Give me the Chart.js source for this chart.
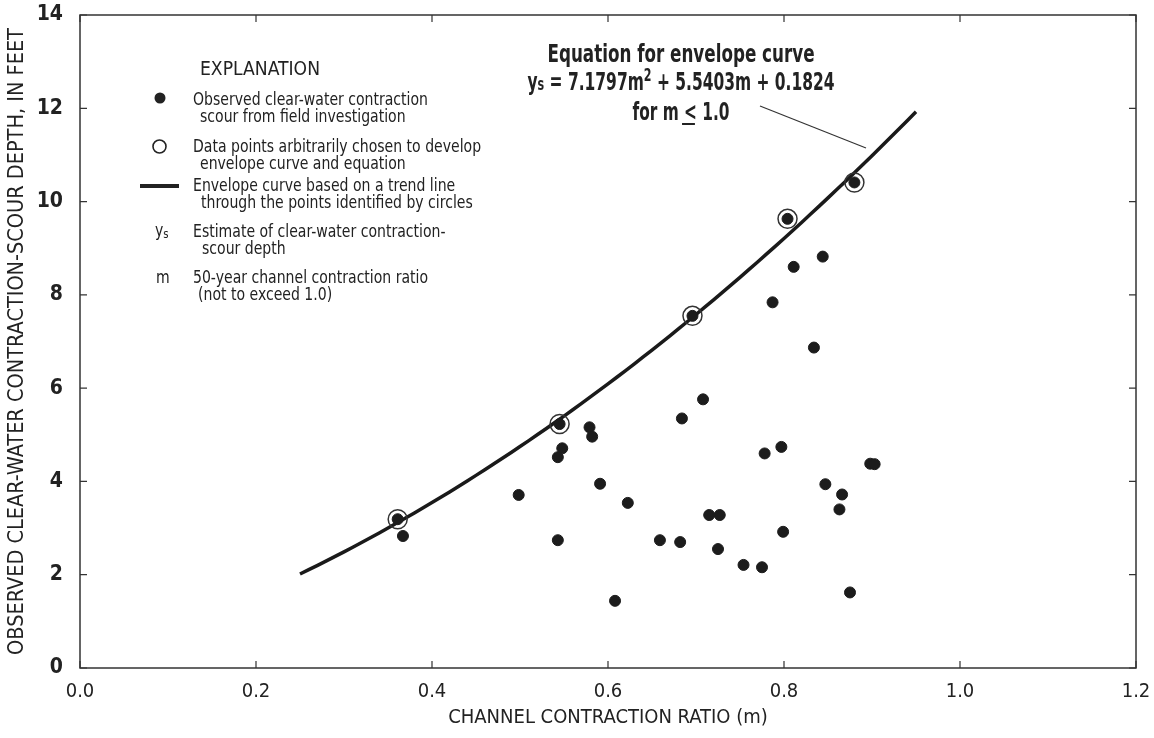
<!DOCTYPE html>
<html>
<head>
<meta charset="utf-8">
<script src="https://cdn.jsdelivr.net/npm/chart.js@4.4.1/dist/chart.umd.min.js"></script>
<style>
  html, body { margin: 0; padding: 0; background: #ffffff; }
  #wrap { width: 1154px; height: 738px; }
</style>
</head>
<body>
<div id="wrap"><canvas id="chart" width="1154" height="738"></canvas></div>
<script>
// Observed clear-water contraction scour: channel contraction ratio (m) and depth (ft)
const observedRatio = [
  0.367, 0.4985, 0.579, 0.582, 0.548, 0.543, 0.591, 0.6225, 0.543, 0.608,
  0.844, 0.811, 0.787, 0.834, 0.708, 0.684, 0.778, 0.797, 0.898, 0.903,
  0.847, 0.866, 0.863, 0.715, 0.727, 0.799, 0.659, 0.682, 0.725, 0.754,
  0.775, 0.875,
  0.361, 0.545, 0.696, 0.804, 0.880
];
const observedDepth = [
  2.83, 3.71, 5.16, 4.96, 4.71, 4.52, 3.95, 3.54, 2.74, 1.44,
  8.82, 8.60, 7.84, 6.87, 5.76, 5.35, 4.60, 4.74, 4.38, 4.37,
  3.94, 3.72, 3.40, 3.28, 3.28, 2.92, 2.74, 2.70, 2.55, 2.21,
  2.16, 1.62,
  3.19, 5.23, 7.55, 9.63, 10.41
];

// Points chosen to develop the envelope curve (circled)
const envelopeRatio = [0.361, 0.545, 0.696, 0.804, 0.880];
const envelopeDepth = [3.19, 5.23, 7.55, 9.63, 10.41];

// Envelope curve ys = a*m^2 + b*m + c, drawn over its plotted range of m
const envelopeCoefficients = [7.1797, 5.5403, 0.1824];
const envelopeRange = [0.25, 0.95];

// Axis ticks
const xTickValues = [0.0, 0.2, 0.4, 0.6, 0.8, 1.0, 1.2];
const yTickValues = [0, 2, 4, 6, 8, 10, 12, 14];

const NARROW = '"Liberation Sans Narrow", "Arial Narrow", "DejaVu Sans Condensed", sans-serif';
const INK = '#222222';

function envelopeDepthAt(m) {
  const [a, b, c] = envelopeCoefficients;
  return a * m * m + b * m + c;
}

const curvePoints = [];
for (let i = 0; i <= 70; i++) {
  const m = envelopeRange[0] + (envelopeRange[1] - envelopeRange[0]) * i / 70;
  curvePoints.push({ x: m, y: envelopeDepthAt(m) });
}

const observedPoints = observedRatio.map((m, i) => ({ x: m, y: observedDepth[i] }));
const envelopePoints = envelopeRatio.map((m, i) => ({ x: m, y: envelopeDepth[i] }));

// Frame on all four sides with inward tick marks
const framePlugin = {
  id: 'frame',
  afterDraw(chart) {
    const { ctx, chartArea: a, scales } = chart;
    const tl = 7;
    ctx.save();
    ctx.strokeStyle = '#333333';
    ctx.lineWidth = 1.5;
    ctx.strokeRect(a.left, a.top, a.right - a.left, a.bottom - a.top);
    ctx.lineWidth = 1.2;
    ctx.beginPath();
    xTickValues.forEach(v => {
      const px = scales.x.getPixelForValue(v);
      ctx.moveTo(px, a.bottom); ctx.lineTo(px, a.bottom - tl);
      ctx.moveTo(px, a.top); ctx.lineTo(px, a.top + tl);
    });
    yTickValues.forEach(v => {
      const py = scales.y.getPixelForValue(v);
      ctx.moveTo(a.left, py); ctx.lineTo(a.left + tl, py);
      ctx.moveTo(a.right, py); ctx.lineTo(a.right - tl, py);
    });
    ctx.stroke();
    ctx.restore();
  }
};

// Draws text compressed horizontally by sx, starting at x
function narrowText(ctx, text, x, y, sx) {
  ctx.save();
  ctx.translate(x, y);
  ctx.scale(sx, 1);
  ctx.fillText(text, 0, 0);
  ctx.restore();
  return ctx.measureText(text).width * sx;
}

// Width of a run of [text, font] pieces at scale sx
function runWidth(ctx, parts, sx) {
  let w = 0;
  parts.forEach(p => { ctx.font = p[1]; w += ctx.measureText(p[0]).width * sx; });
  return w;
}

// Explanation block, equation annotation and leader line
const notesPlugin = {
  id: 'notes',
  afterDatasetsDraw(chart) {
    const { ctx } = chart;
    ctx.save();
    ctx.fillStyle = INK;
    ctx.strokeStyle = INK;
    ctx.textBaseline = 'alphabetic';
    ctx.textAlign = 'left';

    ctx.font = `19px ${NARROW}`;
    const sxHead = 120 / ctx.measureText('EXPLANATION').width;
    narrowText(ctx, 'EXPLANATION', 200, 75, sxHead);

    ctx.font = `18px ${NARROW}`;
    const sxLeg = 235 / ctx.measureText('Observed clear-water contraction').width;
    const lines = [
      ['Observed clear-water contraction', 193, 105],
      ['scour from field investigation', 200, 122],
      ['Data points arbitrarily chosen to develop', 193, 152],
      ['envelope curve and equation', 200, 169],
      ['Envelope curve based on a trend line', 193, 191],
      ['through the points identified by circles', 201, 208],
      ['Estimate of clear-water contraction-', 193, 237],
      ['scour depth', 202, 254],
      ['50-year channel contraction ratio', 193, 283],
      ['(not to exceed 1.0)', 198, 300]
    ];
    lines.forEach(([t, x, y]) => narrowText(ctx, t, x, y, sxLeg));

    // symbols
    ctx.beginPath();
    ctx.arc(160, 98, 5.5, 0, Math.PI * 2);
    ctx.fill();
    ctx.beginPath();
    ctx.lineWidth = 1.6;
    ctx.arc(159.5, 146.5, 6.5, 0, Math.PI * 2);
    ctx.stroke();
    ctx.beginPath();
    ctx.lineWidth = 4;
    ctx.moveTo(140, 186); ctx.lineTo(179, 186);
    ctx.stroke();

    ctx.font = `18px ${NARROW}`;
    const yw = narrowText(ctx, 'y', 155, 236, sxLeg);
    ctx.font = `13px ${NARROW}`;
    narrowText(ctx, 's', 155 + yw, 238, sxLeg);
    ctx.font = `18px ${NARROW}`;
    narrowText(ctx, 'm', 156, 283, sxLeg);

    // equation for the envelope curve
    const cx = 681;
    const big = `bold 25px ${NARROW}`;
    const sub = `bold 18px ${NARROW}`;
    ctx.font = big;
    const l1 = 'Equation for envelope curve';
    const sxEq = 267 / ctx.measureText(l1).width;
    narrowText(ctx, l1, cx - 267 / 2, 62, sxEq);

    const parts = [
      ['y', big, 0],
      ['s', sub, 0],
      [' = 7.1797m', big, 0],
      ['2', sub, -9],
      [' + 5.5403m + 0.1824', big, 0]
    ];
    const sx2 = 307 / runWidth(ctx, parts, 1);
    let x = cx - 307 / 2;
    parts.forEach(p => {
      ctx.font = p[1];
      x += narrowText(ctx, p[0], x, 90 + p[2], sx2);
    });

    ctx.font = big;
    const a1 = 'for m ', a2 = '<', a3 = ' 1.0';
    const sx3 = 97 / runWidth(ctx, [[a1, big], [a2, big], [a3, big]], 1);
    ctx.font = big;
    const w1 = ctx.measureText(a1).width * sx3;
    const w2 = ctx.measureText(a2).width * sx3;
    const x3 = cx - 97 / 2;
    narrowText(ctx, a1, x3, 120, sx3);
    narrowText(ctx, a2, x3 + w1, 120, sx3);
    narrowText(ctx, a3, x3 + w1 + w2, 120, sx3);
    ctx.lineWidth = 2;
    ctx.beginPath();
    ctx.moveTo(x3 + w1 - 2, 124); ctx.lineTo(x3 + w1 + w2 - 2, 124);
    ctx.stroke();

    // leader line to the curve
    ctx.lineWidth = 1.2;
    ctx.strokeStyle = '#333333';
    ctx.beginPath();
    ctx.moveTo(760, 106); ctx.lineTo(866, 148);
    ctx.stroke();
    ctx.restore();
  }
};

new Chart(document.getElementById('chart'), {
  type: 'scatter',
  data: {
    datasets: [
      {
        label: 'Envelope curve',
        type: 'line',
        data: curvePoints,
        borderColor: '#1a1a1a',
        borderWidth: 3.5,
        pointRadius: 0,
        fill: false,
        tension: 0,
        order: 3
      },
      {
        label: 'Observed',
        data: observedPoints,
        backgroundColor: '#1c1c1c',
        borderColor: '#1c1c1c',
        borderWidth: 1,
        pointRadius: 5.5,
        order: 1
      },
      {
        label: 'Chosen points',
        data: envelopePoints,
        backgroundColor: 'rgba(0,0,0,0)',
        borderColor: '#333333',
        borderWidth: 1.5,
        pointRadius: 9.5,
        order: 2
      }
    ]
  },
  options: {
    responsive: false,
    animation: false,
    layout: { padding: { top: 15, right: 18, left: 0, bottom: 0 } },
    plugins: {
      legend: { display: false },
      tooltip: { enabled: false }
    },
    scales: {
      x: {
        type: 'linear',
        min: 0,
        max: 1.2,
        afterFit(scale) {
          scale.height = 70;
          scale.paddingLeft = 0;
          scale.paddingRight = 0;
        },
        afterBuildTicks(scale) { scale.ticks = xTickValues.map(v => ({ value: v })); },
        grid: { display: false, drawTicks: false },
        border: { display: false },
        ticks: {
          padding: 12,
          color: INK,
          font: { family: NARROW, size: 20 },
          callback: v => Number(v).toFixed(1)
        },
        title: {
          display: true,
          text: 'CHANNEL CONTRACTION RATIO (m)',
          color: INK,
          font: { family: NARROW, size: 20 },
          padding: { top: 0, bottom: 8 }
        }
      },
      y: {
        type: 'linear',
        min: 0,
        max: 14,
        afterFit(scale) {
          scale.width = 80;
          scale.paddingTop = 0;
          scale.paddingBottom = 0;
        },
        afterBuildTicks(scale) { scale.ticks = yTickValues.map(v => ({ value: v })); },
        grid: { display: false, drawTicks: false },
        border: { display: false },
        ticks: {
          padding: 17,
          color: INK,
          font: { family: NARROW, size: 21, weight: 'bold' },
          callback: v => String(v)
        },
        title: {
          display: true,
          text: 'OBSERVED CLEAR-WATER CONTRACTION-SCOUR DEPTH, IN FEET',
          color: INK,
          font: { family: NARROW, size: 21.5 },
          padding: { top: 5, bottom: 0 }
        }
      }
    }
  },
  plugins: [framePlugin, notesPlugin]
});
</script>
</body>
</html>
